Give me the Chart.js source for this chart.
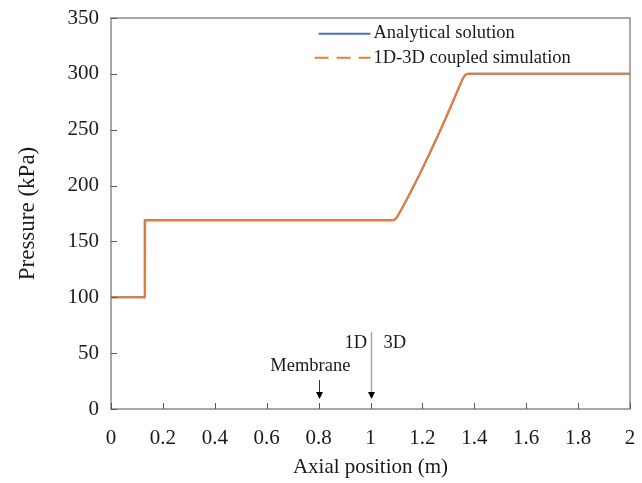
<!DOCTYPE html>
<html><head><meta charset="utf-8">
<script src="https://cdn.jsdelivr.net/npm/chart.js@4/dist/chart.umd.min.js"></script>
<style>html,body{margin:0;padding:0;background:#fff}#wrap{width:642px;height:483px}</style>
</head><body><div id="wrap"><canvas id="c" width="642" height="483"></canvas></div>
<script>
// ---- data ----
const analyticalX = [0, 0.129, 0.130, 1.08, 1.09, 1.10, 1.12, 1.15, 1.19, 1.23, 1.27, 1.31, 1.34, 1.355, 1.365, 1.375, 2.0];
const analyticalP = [100, 100, 169, 169, 169.2, 171, 179, 192, 210.5, 229.8, 250, 271, 287.5, 295.5, 299.2, 300, 300];
const simulationX = [0, 0.131, 0.132, 1.08, 1.09, 1.10, 1.12, 1.15, 1.19, 1.23, 1.27, 1.31, 1.34, 1.355, 1.365, 1.375, 2.0];
const simulationP = [100, 100, 169, 169, 169.2, 171, 179, 192, 210.5, 229.8, 250, 271, 287.5, 295.5, 299.2, 300, 300];
const xTickValues = [0, 0.2, 0.4, 0.6, 0.8, 1, 1.2, 1.4, 1.6, 1.8, 2];
const yTickValues = [0, 50, 100, 150, 200, 250, 300, 350];
const seriesNames = ['Analytical solution', '1D-3D coupled simulation'];

const FONT = '"Liberation Serif", "Times New Roman", serif';
const BLUE = '#4472C4', ORANGE = '#ED7D31';

const pts = (xs, ys) => xs.map((x, i) => ({x: x, y: ys[i]}));
const noPad = s => { s.paddingLeft = 0; s.paddingRight = 0; s.paddingTop = 0; s.paddingBottom = 0; };

const decor = {
  id: 'decor',
  afterDraw(chart) {
    const ctx = chart.ctx, a = chart.chartArea;
    const xs = chart.scales.x, ys = chart.scales.y;
    ctx.save();
    // frame
    ctx.strokeStyle = '#8c8c8c';
    ctx.lineWidth = 1.5;
    ctx.strokeRect(a.left, a.top, a.right - a.left, a.bottom - a.top);
    // inward ticks
    ctx.strokeStyle = '#595959';
    ctx.lineWidth = 1;
    ctx.beginPath();
    xs.ticks.forEach(t => { const px = Math.round(xs.getPixelForValue(t.value)) + 0.5; ctx.moveTo(px, a.bottom); ctx.lineTo(px, a.bottom - 6); });
    ys.ticks.forEach(t => { const py = Math.round(ys.getPixelForValue(t.value)) + 0.5; ctx.moveTo(a.left, py); ctx.lineTo(a.left + 6, py); });
    ctx.stroke();

    // legend inside plot
    const lx0 = xs.getPixelForValue(0.8), lx1 = xs.getPixelForValue(1.0);
    const r1 = ys.getPixelForValue(336), r2 = ys.getPixelForValue(314.5);
    ctx.lineWidth = 2;
    ctx.strokeStyle = BLUE;
    ctx.beginPath(); ctx.moveTo(lx0, r1); ctx.lineTo(lx1, r1); ctx.stroke();
    ctx.strokeStyle = ORANGE;
    ctx.setLineDash([14, 8]);
    ctx.beginPath(); ctx.moveTo(lx0 - 4, r2); ctx.lineTo(lx1, r2); ctx.stroke();
    ctx.setLineDash([]);
    ctx.fillStyle = '#1a1a1a';
    ctx.font = '18.5px ' + FONT;
    ctx.textAlign = 'left';
    ctx.textBaseline = 'middle';
    ctx.fillText(seriesNames[0], lx1 + 3, r1);
    ctx.fillText(seriesNames[1], lx1 + 3, r2);

    // annotations
    const arrowHead = (x, yTip) => {
      ctx.fillStyle = '#000';
      ctx.beginPath(); ctx.moveTo(x - 3.5, yTip - 7); ctx.lineTo(x + 3.5, yTip - 7); ctx.lineTo(x, yTip); ctx.closePath(); ctx.fill();
    };
    const mx = Math.round(xs.getPixelForValue(0.8)) + 0.5;
    ctx.strokeStyle = '#333';
    ctx.lineWidth = 1;
    ctx.beginPath(); ctx.moveTo(mx, ys.getPixelForValue(26)); ctx.lineTo(mx, ys.getPixelForValue(9) - 5); ctx.stroke();
    arrowHead(mx, ys.getPixelForValue(9));
    const dx = Math.round(xs.getPixelForValue(1.0)) + 0.5;
    ctx.strokeStyle = '#a6a6a6';
    ctx.lineWidth = 1.5;
    ctx.beginPath(); ctx.moveTo(dx, ys.getPixelForValue(69)); ctx.lineTo(dx, ys.getPixelForValue(9) - 5); ctx.stroke();
    arrowHead(dx, ys.getPixelForValue(9));
    ctx.fillStyle = '#1a1a1a';
    ctx.textAlign = 'center';
    ctx.fillText('Membrane', xs.getPixelForValue(0.768), ys.getPixelForValue(38));
    ctx.textAlign = 'right';
    ctx.fillText('1D', xs.getPixelForValue(0.987), ys.getPixelForValue(59));
    ctx.textAlign = 'left';
    ctx.fillText('3D', xs.getPixelForValue(1.05), ys.getPixelForValue(59));
    ctx.restore();
  }
};

new Chart(document.getElementById('c'), {
  type: 'line',
  data: {
    datasets: [
      { label: seriesNames[1], data: pts(simulationX, simulationP), borderColor: ORANGE, borderWidth: 2, pointRadius: 0, tension: 0, fill: false, order: 0 },
      { label: seriesNames[0], data: pts(analyticalX, analyticalP), borderColor: BLUE, borderWidth: 2, pointRadius: 0, tension: 0, fill: false, order: 1 }
    ]
  },
  options: {
    responsive: false,
    animation: false,
    devicePixelRatio: 1,
    layout: { padding: { top: 18, right: 12, left: 0, bottom: 0 } },
    plugins: { legend: { display: false }, tooltip: { enabled: false } },
    scales: {
      x: {
        type: 'linear', min: 0, max: 2,
        afterBuildTicks: s => { s.ticks = xTickValues.map(v => ({value: v})); },
        afterFit: s => { s.height = 74; noPad(s); },
        grid: { display: false, drawTicks: false },
        border: { display: false },
        ticks: { padding: 17, color: '#1a1a1a', font: { family: FONT, size: 21 }, callback: v => String(v), maxRotation: 0, autoSkip: false },
        title: { display: true, text: 'Axial position (m)', color: '#1a1a1a', font: { family: FONT, size: 21 }, padding: { top: 0, bottom: 3 } }
      },
      y: {
        type: 'linear', min: 0, max: 350,
        afterBuildTicks: s => { s.ticks = yTickValues.map(v => ({value: v})); },
        afterFit: s => { s.width = 111; noPad(s); },
        grid: { display: false, drawTicks: false },
        border: { display: false },
        ticks: { padding: 12, color: '#1a1a1a', font: { family: FONT, size: 21 } },
        title: { display: true, text: 'Pressure (kPa)', color: '#1a1a1a', font: { family: FONT, size: 23 }, padding: { top: 14, bottom: 0 } }
      }
    }
  },
  plugins: [decor]
});
</script>
</body></html>
